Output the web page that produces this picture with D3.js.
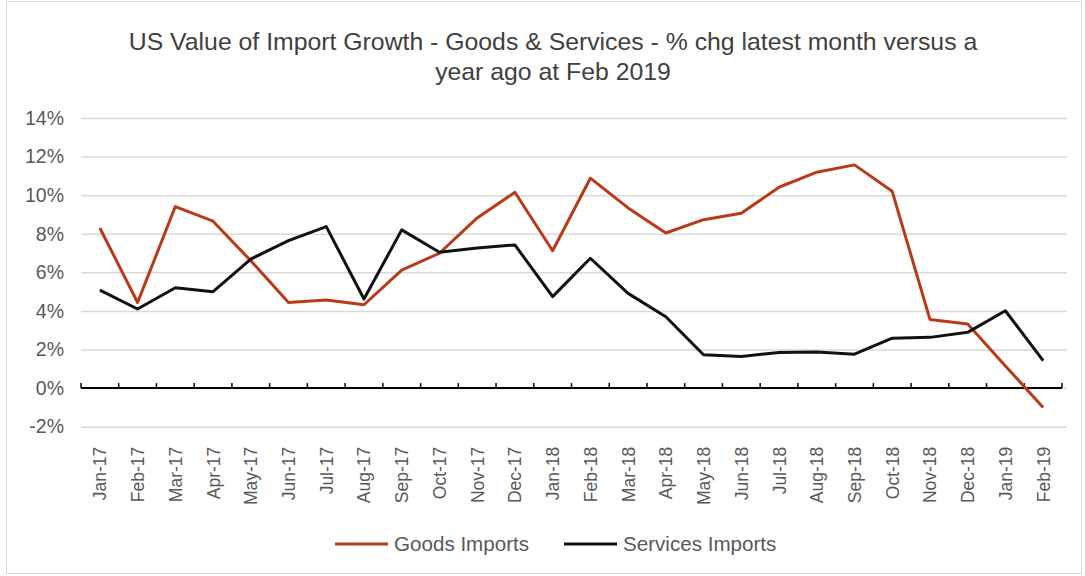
<!DOCTYPE html>
<meta charset="utf-8">
<script src="https://d3js.org/d3.v7.min.js"></script>
<style>
  body { margin: 0; background: #fff; }
  text { font-family: "Liberation Sans", Arial, sans-serif; }
</style>
<div id="my_dataviz"></div>
<script>

// data
var months = ["Jan-17","Feb-17","Mar-17","Apr-17","May-17","Jun-17","Jul-17","Aug-17","Sep-17","Oct-17","Nov-17","Dec-17",
              "Jan-18","Feb-18","Mar-18","Apr-18","May-18","Jun-18","Jul-18","Aug-18","Sep-18","Oct-18","Nov-18","Dec-18",
              "Jan-19","Feb-19"];
var goods = [8.30, 4.44, 9.41, 8.65, 6.6, 4.44, 4.57, 4.32, 6.12, 6.99, 8.82, 10.15,
             7.12, 10.88, 9.34, 8.04, 8.73, 9.06, 10.41, 11.19, 11.57, 10.2, 3.56, 3.32,
             1.15, -1.0];
var services = [5.08, 4.10, 5.20, 5.00, 6.69, 7.64, 8.37, 4.62, 8.20, 7.04, 7.26, 7.42,
                4.74, 6.73, 4.91, 3.70, 1.73, 1.64, 1.85, 1.87, 1.76, 2.59, 2.63, 2.89,
                4.01, 1.42];
var yTicks = [-2, 0, 2, 4, 6, 8, 10, 12, 14];
var seriesNames = ["Goods Imports", "Services Imports"];
var seriesColors = ["#B93A18", "#111111"];

var W = 1085, H = 576;
var margin = {top: 118, right: 18, bottom: 150, left: 81};
var width = W - margin.left - margin.right,
    height = 426.7 - 118;

var svg = d3.select("#my_dataviz")
  .append("svg")
    .attr("width", W)
    .attr("height", H);

// outer border
svg.append("rect")
  .attr("x", 6.5).attr("y", 1.5)
  .attr("width", W - 10).attr("height", H - 4)
  .attr("fill", "none")
  .attr("stroke", "#d9d9d9")
  .attr("stroke-width", 1);

// title
svg.append("text")
  .attr("x", 553).attr("y", 50)
  .attr("text-anchor", "middle")
  .style("font-size", "24.8px")
  .style("fill", "#404040")
  .text("US Value of Import Growth - Goods & Services - % chg latest month versus a");
svg.append("text")
  .attr("x", 553).attr("y", 80)
  .attr("text-anchor", "middle")
  .style("font-size", "24.8px")
  .style("fill", "#404040")
  .text("year ago at Feb 2019");

var g = svg.append("g")
  .attr("transform", "translate(" + margin.left + "," + margin.top + ")");

var x = d3.scaleBand().domain(months).range([0, width - 5]).padding(0);
var y = d3.scaleLinear().domain([-2, 14]).range([height, 0]);

// gridlines
g.append("g")
  .call(d3.axisLeft(y).tickValues(yTicks).tickSize(-(width)).tickFormat(""))
  .call(function(a) {
    a.select(".domain").remove();
    a.selectAll("line").attr("stroke", "#d9d9d9").attr("stroke-width", 1.5);
  });

// y labels
g.append("g")
  .call(d3.axisLeft(y).tickValues(yTicks).tickSize(0).tickPadding(17)
        .tickFormat(function(d) { return d + "%"; }))
  .call(function(a) {
    a.select(".domain").remove();
    a.selectAll("text").style("font-size", "19.5px").style("fill", "#595959")
      .style("font-family", "Liberation Sans, Arial, sans-serif");
  });

// zero axis with ticks at category boundaries pointing up
var zero = g.append("g").attr("transform", "translate(0," + y(0) + ")");
zero.append("line")
  .attr("x1", 0).attr("x2", width - 5)
  .attr("stroke", "#000").attr("stroke-width", 2);
zero.selectAll(".tk")
  .data(months.concat(["end"]))
  .enter().append("line")
    .attr("x1", function(d, i) { return i * x.bandwidth(); })
    .attr("x2", function(d, i) { return i * x.bandwidth(); })
    .attr("y1", 0).attr("y2", -5)
    .attr("stroke", "#000").attr("stroke-width", 1.5);

// x labels, rotated
g.selectAll(".xl")
  .data(months)
  .enter().append("text")
    .attr("transform", function(d) {
      return "translate(" + (x(d) + x.bandwidth() / 2 + 6.5) + "," + (height + 20) + ") rotate(-90)";
    })
    .attr("text-anchor", "end")
    .style("font-size", "17.5px")
    .style("fill", "#595959")
    .text(function(d) { return d; });

// lines
var line = d3.line()
  .x(function(d, i) { return x(months[i]) + x.bandwidth() / 2; })
  .y(function(d) { return y(d); });

[goods, services].forEach(function(s, k) {
  g.append("path")
    .datum(s)
    .attr("fill", "none")
    .attr("stroke", seriesColors[k])
    .attr("stroke-width", 3)
    .attr("stroke-linejoin", "round")
    .attr("d", line);
});

// legend
var legX = [335, 564];
seriesNames.forEach(function(n, k) {
  svg.append("line")
    .attr("x1", legX[k]).attr("x2", legX[k] + 53)
    .attr("y1", 544).attr("y2", 544)
    .attr("stroke", seriesColors[k]).attr("stroke-width", 3);
  svg.append("text")
    .attr("x", legX[k] + 59).attr("y", 551)
    .style("font-size", "20.6px")
    .style("fill", "#595959")
    .text(n);
});

</script>
